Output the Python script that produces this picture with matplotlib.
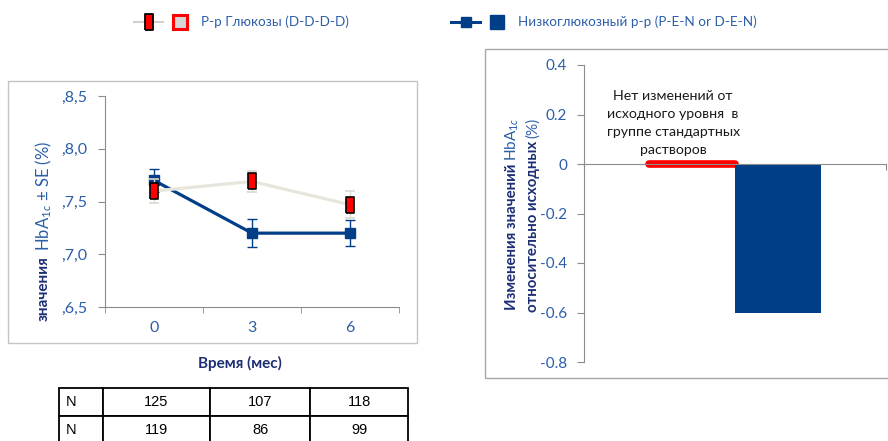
import matplotlib
matplotlib.use("Agg")
import matplotlib.pyplot as plt
from matplotlib.lines import Line2D
from matplotlib.patches import Rectangle
from matplotlib.legend_handler import HandlerTuple
import numpy as np

plt.rcParams["font.family"] = ["Lato", "Open Sans", "DejaVu Sans"]
plt.rcParams["mathtext.fontset"] = "custom"
plt.rcParams["mathtext.rm"] = "Lato"
plt.rcParams["mathtext.it"] = "Lato:italic"
plt.rcParams["mathtext.bf"] = "Lato:bold"

# ---- data -------------------------------------------------------------
months = ["0", "3", "6"]
glucose_mean = [7.60, 7.69, 7.47]
glucose_se = [0.11, 0.10, 0.13]
lowgluc_mean = [7.70, 7.20, 7.20]
lowgluc_se = [0.11, 0.13, 0.12]
hba_ticks = [6.5, 7.0, 7.5, 8.0, 8.5]
hba_tick_labels = [",6,5", ",7,0", ",7,5", ",8,0", ",8,5"]

change_groups = ["Р-р Глюкозы", "Низкоглюкозный р-р"]
change_values = [0.0, -0.6]
change_ticks = [0.4, 0.2, 0.0, -0.2, -0.4, -0.6, -0.8]
change_tick_labels = ["0.4", "0.2", "0", "-0.2", "-0.4", "-0.6", "-0.8"]

n_table = [["N", "125", "107", "118"],
           ["N", "119", "86", "99"]]

legend_labels = ["Р-р Глюкозы (D-D-D-D)", "Низкоглюкозный р-р (P-E-N or D-E-N)"]

# ---- style ------------------------------------------------------------
W, H, DPI = 888, 441, 100
BLUE = "#003f87"
TICK = "#2c5ea8"
NAVY = "#1c2f75"
PALE = "#e8e6dc"
SPINE = "#8c8c8c"
TALL = [(-0.55, -1), (0.55, -1), (0.55, 1), (-0.55, 1), (-0.55, -1)]


def px(l, t, r, b):
    return [l / W, 1 - b / H, (r - l) / W, (b - t) / H]


fig = plt.figure(figsize=(W / DPI, H / DPI), dpi=DPI)
fig.patch.set_facecolor("white")
renderer = fig.canvas.get_renderer()


def stack_rotated(x_px, y_bottom_px, pieces, gap_px=0):
    """Place rotated text pieces one after another, reading bottom to top."""
    y = y_bottom_px
    for s, kw in pieces:
        t = fig.text(x_px / W, 1 - y / H, s, rotation=90, ha="center",
                     va="bottom", **kw)
        ext = t.get_window_extent(renderer)
        y -= ext.height + gap_px


# frames around the two panels
fig.add_artist(Rectangle((8 / W, 1 - 343 / H), (417 - 8) / W, (343 - 81) / H,
                         transform=fig.transFigure, fill=False,
                         edgecolor="#c4c4c4", lw=1))
fig.add_artist(Rectangle((485 / W, 1 - 378 / H), (895 - 485) / W, (378 - 49) / H,
                         transform=fig.transFigure, fill=False,
                         edgecolor="#a8a8a8", lw=1))

# ---- left panel: HbA1c over time ---------------------------------------
ax1 = fig.add_axes(px(105, 96, 399, 307))
x = np.arange(len(months))
ax1.errorbar(x, lowgluc_mean, yerr=lowgluc_se, color=BLUE, lw=2.3,
             marker="s", ms=7.5, mfc=BLUE, mec=BLUE, ecolor=BLUE,
             elinewidth=1, capsize=3.5, capthick=1, zorder=3)
ax1.errorbar(x, glucose_mean, yerr=glucose_se, color=PALE, lw=2.3,
             marker=TALL, ms=11, mfc="#ff0000", mec="black", mew=1.2,
             ecolor="#dcd9cf", elinewidth=1, capsize=3.5, capthick=1,
             zorder=4)
ax1.set_xlim(-0.5, 2.5)
ax1.set_ylim(6.5, 8.5)
ax1.set_xticks(x, months)
ax1.set_xticks([-0.5, 0.5, 1.5, 2.5], minor=True)
ax1.tick_params(axis="x", which="major", length=0, pad=10,
                labelcolor=TICK, labelsize=11.5)
ax1.tick_params(axis="x", which="minor", length=4, color=SPINE, direction="out")
ax1.set_yticks(hba_ticks, hba_tick_labels)
ax1.tick_params(axis="y", length=5, color=SPINE, pad=8,
                labelcolor=TICK, labelsize=11.5)
for s in ("top", "right"):
    ax1.spines[s].set_visible(False)
for s in ("left", "bottom"):
    ax1.spines[s].set_color(SPINE)

stack_rotated(44, 321, [
    ("значения", dict(fontsize=11, fontweight="bold", color=NAVY)),
    ("HbA$_{1c}$ ± SE (%)", dict(fontsize=12, color=TICK)),
], gap_px=5)

fig.text(240 / W, 1 - 363 / H, "Время (мес)", ha="center", va="center",
         fontsize=11, fontweight="bold", color=NAVY)

# ---- N table ------------------------------------------------------------
axt = fig.add_axes(px(59, 388, 408, 444))
axt.axis("off")
col_w = np.array([44, 107, 100, 98], dtype=float)
tbl = axt.table(cellText=n_table, bbox=[0, 0, 1, 1],
                colWidths=list(col_w / col_w.sum()), cellLoc="center")
tbl.auto_set_font_size(False)
tbl.set_fontsize(10.5)
for (r, c), cell in tbl.get_celld().items():
    cell.set_edgecolor("black")
    cell.set_linewidth(1.3)
    cell.set_text_props(fontfamily="Liberation Sans", color="black")
    if c == 0:
        cell.set_text_props(ha="left")
        cell.PAD = 0.15

# ---- right panel: change from baseline ---------------------------------
ax2 = fig.add_axes(px(584, 65, 886, 362))
bw = 0.285
offsets = (np.arange(len(change_values)) - 0.5) * bw
bars = ax2.bar(offsets, change_values, width=bw,
               color=["#ff0000", BLUE], edgecolor=["#ff0000", BLUE],
               linewidth=[5.5, 0], zorder=1)
bars[0].set_joinstyle("round")
bars[0].set_capstyle("round")
ax2.set_xlim(-0.5, 0.5)
ax2.set_ylim(-0.8, 0.4)
ax2.set_yticks(change_ticks, change_tick_labels)
ax2.tick_params(axis="y", length=5, color=SPINE, pad=7,
                labelcolor=TICK, labelsize=11)
ax2.set_xticks([-0.5, 0.5], ["", ""])
ax2.tick_params(axis="x", length=4, color=SPINE, direction="out")
ax2.spines["bottom"].set_position(("data", 0))
ax2.spines["bottom"].set_zorder(5)
for s in ("top", "right"):
    ax2.spines[s].set_visible(False)
for s in ("left", "bottom"):
    ax2.spines[s].set_color(SPINE)

ax2.text(0.295, 0.805,
         "Нет изменений от\nисходного уровня  в\nгруппе стандартных\nрастворов",
         transform=ax2.transAxes, ha="center", va="center",
         fontsize=10.2, color="#1a1a1a", linespacing=1.6)

stack_rotated(512, 310, [
    ("Изменения значений", dict(fontsize=10.8, fontweight="bold", color=NAVY)),
    ("HbA$_{1c}$", dict(fontsize=11, color=TICK)),
], gap_px=3)
stack_rotated(533, 312, [
    ("относительно исходных", dict(fontsize=10.8, fontweight="bold", color=NAVY)),
    ("(%)", dict(fontsize=11, color=TICK)),
], gap_px=3)

# ---- legend -------------------------------------------------------------
h1 = (Line2D([], [], color="#d0d0d0", lw=1.5, marker=TALL, ms=11.5,
             mfc="#ff0000", mec="black", mew=1.3),
      Line2D([], [], ls="none", marker="s", ms=9.5, mfc="#d6d6d6",
             mec="#ff0000", mew=2.2))
h2 = (Line2D([], [], color=BLUE, lw=2.2, marker="s", ms=7.2, mfc=BLUE, mec=BLUE),
      Line2D([], [], ls="none", marker="s", ms=10, mfc=BLUE, mec=BLUE))
fig.legend([h1, h2], legend_labels,
           handler_map={tuple: HandlerTuple(ndivide=None, pad=0.15)},
           ncol=2, loc="center left", bbox_to_anchor=(134 / W, 1 - 22 / H),
           frameon=False, fontsize=9.7, handlelength=4.5,
           handletextpad=0.45, columnspacing=7.6, labelcolor=TICK,
           borderaxespad=0, borderpad=0)

fig.savefig("out.png", dpi=DPI, facecolor="white")
